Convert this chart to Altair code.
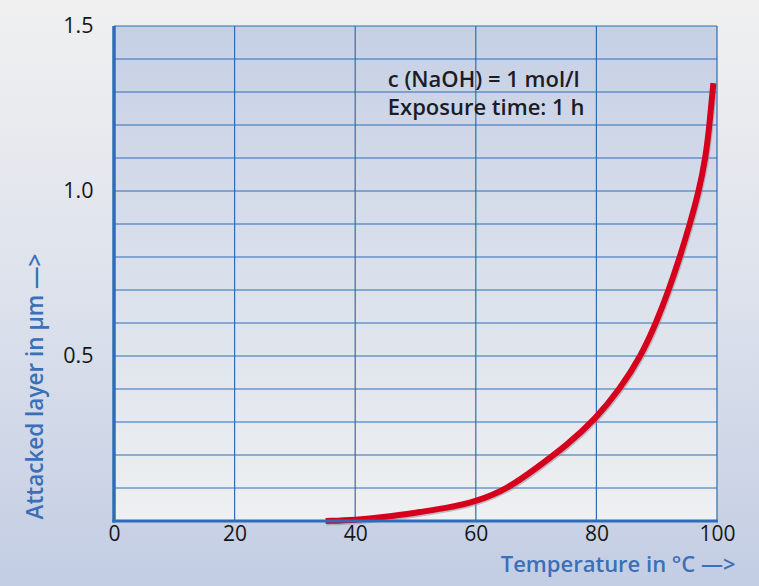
import altair as alt
import pandas as pd

# ---- data ----
temperature = [35.1, 40, 45, 50, 55, 60, 65.5, 70, 75, 80, 83.9, 87.4, 89.9, 92.0,
               93.85, 95.5, 97.0, 98.1, 98.75, 99.25, 99.4]
attacked = [0.0, 0.003, 0.012, 0.025, 0.039, 0.058, 0.1, 0.16, 0.228, 0.312, 0.4, 0.5,
            0.6, 0.7, 0.8, 0.9, 1.0, 1.1, 1.2, 1.3, 1.327]
x_ticks = [0, 20, 40, 60, 80, 100]
x_grid = [20, 40, 60, 80, 100]
y_ticks = [0.5, 1.0, 1.5]
y_grid = [0.1, 0.2, 0.3, 0.4, 0.5, 0.6, 0.7, 0.8, 0.9, 1.0, 1.1, 1.2, 1.3, 1.4, 1.5]
note_lines = ["c (NaOH) = 1 mol/l", "Exposure time: 1 h"]
note_x = [45.4, 45.4]
note_y = [1.315, 1.23]

W, H = 603, 495
PAD = {"left": 114, "top": 26, "right": 42, "bottom": 65}
BLUE = "#2f6cb8"
FONT = "Open Sans"

xs = alt.Scale(domain=[0, 100], nice=False, zero=False)
ys = alt.Scale(domain=[0, 1.5], nice=False)

xaxis = alt.Axis(values=x_ticks, title="Temperature in °C —>", grid=False,
                 domain=False, ticks=False, labelPadding=2,
                 labelFontSize=21, labelFontWeight=500, labelColor="#161616",
                 labelFont=FONT,
                 titleFont=FONT, titleFontSize=22, titleFontWeight=600,
                 titleColor="#3a70b8", titleAnchor="end", titleAlign="right",
                 titleX=621, titleY=50, titleBaseline="alphabetic",
                 labelFlush=False, labelOverlap=False, zindex=1)
yaxis = alt.Axis(values=y_ticks, format=".1f", title="Attacked layer in µm —>",
                 grid=False, domain=False, ticks=False, labelPadding=21,
                 labelFontSize=21.5, labelFontWeight=500, labelColor="#161616",
                 labelFont=FONT,
                 titleFont=FONT, titleFontSize=22.5, titleFontWeight=600,
                 titleColor="#3a70b8", titleAngle=270, titleAlign="left",
                 titleBaseline="alphabetic", titleX=-72, titleY=H - 2,
                 labelFlush=False, labelOverlap=False, zindex=1)

curve_df = pd.DataFrame({"T": temperature, "d": attacked})
xg_df = pd.DataFrame({"T": x_grid})
yg_df = pd.DataFrame({"d": y_grid})
note_df = pd.DataFrame({"T": note_x, "d": note_y, "txt": note_lines})
one = alt.Data(values=[{}])

X = alt.X("T:Q", scale=xs, axis=xaxis)
Y = alt.Y("d:Q", scale=ys, axis=yaxis)

outer_bg = alt.Chart(one).mark_rect(
    fill=alt.LinearGradient(gradient="linear", x1=0, x2=0, y1=0, y2=1,
                            stops=[alt.GradientStop(color="#f0f0f0", offset=0),
                                   alt.GradientStop(color="#dde2ec", offset=0.5),
                                   alt.GradientStop(color="#c3cde3", offset=1)])
).encode(x=alt.value(-PAD["left"]), x2=alt.value(W + PAD["right"]),
         y=alt.value(-PAD["top"]), y2=alt.value(H + PAD["bottom"]))

plot_bg = alt.Chart(one).mark_rect(
    fill=alt.LinearGradient(gradient="linear", x1=0, x2=0, y1=0, y2=1,
                            stops=[alt.GradientStop(color="#c6d0e5", offset=0),
                                   alt.GradientStop(color="#eef0f1", offset=1)])
).encode(x=alt.value(0), x2=alt.value(W), y=alt.value(0), y2=alt.value(H))

vgrid = alt.Chart(xg_df).mark_rule(color=BLUE, strokeWidth=1.2).encode(
    x=X, y=alt.value(0), y2=alt.value(H))
hgrid = alt.Chart(yg_df).mark_rule(color=BLUE, strokeWidth=1.2).encode(
    y=Y, x=alt.value(0), x2=alt.value(W))

left_line = alt.Chart(one).mark_rule(color=BLUE, strokeWidth=3.5).encode(
    x=alt.value(0), y=alt.value(0), y2=alt.value(H + 1.5))
bottom_line = alt.Chart(one).mark_rule(color=BLUE, strokeWidth=3).encode(
    x=alt.value(-1.5), x2=alt.value(W + 1), y=alt.value(H))

shadow = alt.Chart(curve_df).mark_line(
    color="#8a8a96", strokeWidth=6, opacity=0.5, interpolate="basis",
    xOffset=1, yOffset=1.5, strokeCap="butt"
).encode(x=X, y=Y)

curve = alt.Chart(curve_df).mark_line(
    color="#d6001c", strokeWidth=6, interpolate="basis", strokeCap="butt"
).encode(x=X, y=Y)

note = alt.Chart(note_df).mark_text(
    align="left", baseline="alphabetic", font=FONT, fontSize=22, fontWeight=600,
    color="#1c1c28"
).encode(x=X, y=Y, text="txt:N")

chart = alt.layer(outer_bg, plot_bg, vgrid, hgrid, shadow, curve, bottom_line,
                  left_line, note).properties(
    width=W, height=H, autosize=alt.AutoSizeParams(type="none"), padding=PAD,
    background="#dde2ec"
).configure_view(stroke=None)

chart.save("out.html", embed_options={"renderer": "svg", "actions": False})
